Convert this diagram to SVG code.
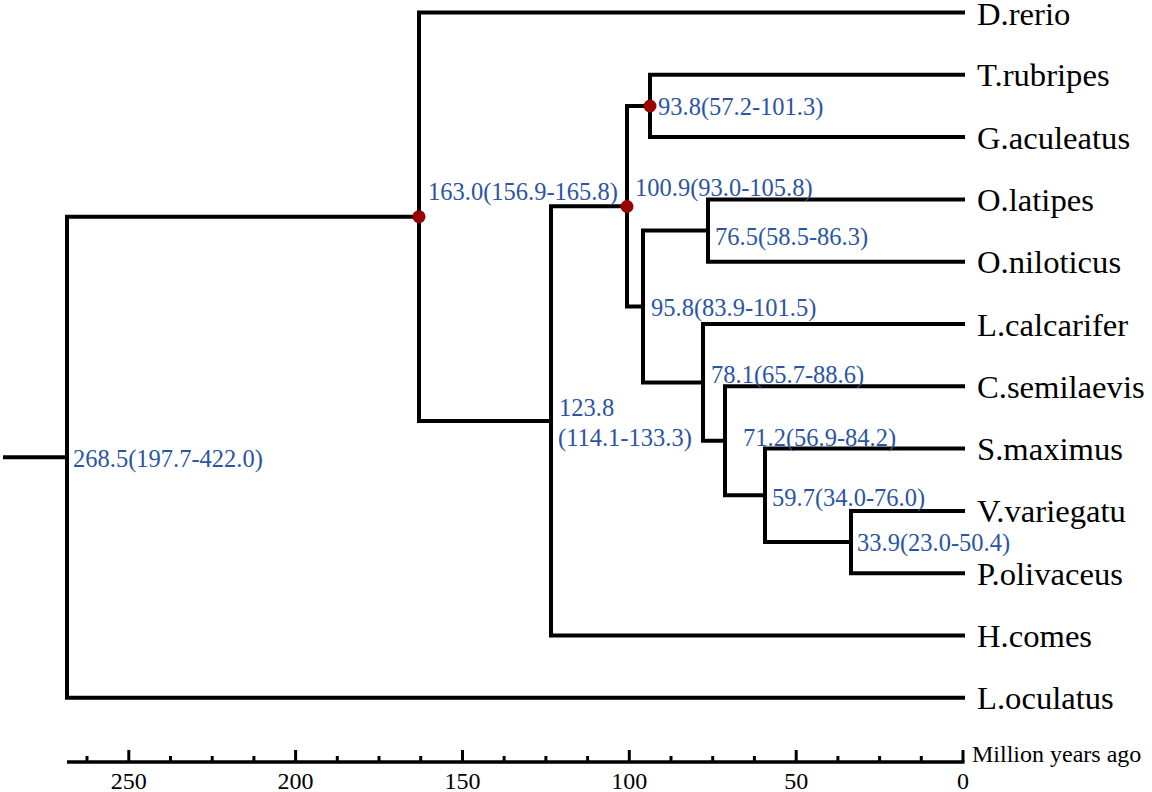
<svg xmlns="http://www.w3.org/2000/svg" width="1152" height="792" viewBox="0 0 1152 792">
<style>
.br{fill:none;stroke:#000;stroke-width:4;stroke-linejoin:miter;stroke-linecap:square}
.tip{font-family:"Liberation Serif","Times New Roman",serif;font-size:30.5px;fill:#000}
.age{font-family:"Liberation Serif","Times New Roman",serif;font-size:24.5px;fill:#2b55a3}
.ax{font-family:"Liberation Serif","Times New Roman",serif;font-size:24px;fill:#000}
.dot{fill:#9b0000}
.tk{stroke:#000;stroke-width:3}
</style>
<rect width="1152" height="792" fill="#fff"/>
<g id="connectors">
<path class="br" d="M5 457.3 H67"/>
<path class="br" d="M419 216.7 H67 V697.8 H963"/>
<path class="br" d="M963 12.5 H419 V420.9 H551"/>
<path class="br" d="M627 206.2 H551 V635.5 H963"/>
<path class="br" d="M650 106 H627 V306.5 H643"/>
<path class="br" d="M963 74.8 H650 V137.1 H963"/>
<path class="br" d="M708 230.5 H643 V382.4 H703"/>
<path class="br" d="M963 199.4 H708 V261.7 H963"/>
<path class="br" d="M963 324 H703 V440.8 H725"/>
<path class="br" d="M963 386.3 H725 V495.3 H765"/>
<path class="br" d="M963 448.6 H765 V542 H851"/>
<path class="br" d="M963 510.9 H851 V573.2 H963"/>
</g>
<g id="n_root"><text class="age" x="73" y="467">268.5(197.7-422.0)</text></g>
<g id="n_163"><circle class="dot" cx="419" cy="216.7" r="6.5"/><text class="age" x="428" y="200">163.0(156.9-165.8)</text></g>
<g id="n_123"><text class="age" x="559" y="416">123.8</text><text class="age" x="558" y="446">(114.1-133.3)</text></g>
<g id="n_100"><circle class="dot" cx="627" cy="206.5" r="6.5"/><text class="age" x="635" y="196">100.9(93.0-105.8)</text></g>
<g id="n_93"><circle class="dot" cx="650" cy="106" r="6.5"/><text class="age" x="658" y="115">93.8(57.2-101.3)</text></g>
<g id="n_95"><text class="age" x="651" y="316">95.8(83.9-101.5)</text></g>
<g id="n_76"><text class="age" x="715" y="245">76.5(58.5-86.3)</text></g>
<g id="n_78"><text class="age" x="711" y="383">78.1(65.7-88.6)</text></g>
<g id="n_71"><text class="age" x="743" y="446">71.2(56.9-84.2)</text></g>
<g id="n_59"><text class="age" x="772" y="506">59.7(34.0-76.0)</text></g>
<g id="n_33"><text class="age" x="857" y="551">33.9(23.0-50.4)</text></g>
<g id="t_drerio"><text class="tip" transform="translate(977 25) scale(1.07 1)">D.rerio</text></g>
<g id="t_trubripes"><text class="tip" transform="translate(977 86.3) scale(1.07 1)">T.rubripes</text></g>
<g id="t_gaculeatus"><text class="tip" transform="translate(977 148.6) scale(1.07 1)">G.aculeatus</text></g>
<g id="t_olatipes"><text class="tip" transform="translate(977 210.9) scale(1.07 1)">O.latipes</text></g>
<g id="t_oniloticus"><text class="tip" transform="translate(977 273.2) scale(1.07 1)">O.niloticus</text></g>
<g id="t_lcalcarifer"><text class="tip" transform="translate(977 335.5) scale(1.07 1)">L.calcarifer</text></g>
<g id="t_csemilaevis"><text class="tip" transform="translate(977 397.8) scale(1.07 1)">C.semilaevis</text></g>
<g id="t_smaximus"><text class="tip" transform="translate(977 460.1) scale(1.07 1)">S.maximus</text></g>
<g id="t_vvariegatu"><text class="tip" transform="translate(977 522.4) scale(1.07 1)">V.variegatu</text></g>
<g id="t_polivaceus"><text class="tip" transform="translate(977 584.7) scale(1.07 1)">P.olivaceus</text></g>
<g id="t_hcomes"><text class="tip" transform="translate(977 647) scale(1.07 1)">H.comes</text></g>
<g id="t_loculatus"><text class="tip" transform="translate(977 709.3) scale(1.07 1)">L.oculatus</text></g>
<g id="axis">
<line x1="67" y1="762" x2="964.5" y2="762" stroke="#000" stroke-width="3.5"/>
<g class="tk">
<line x1="963" y1="750" x2="963" y2="762"/>
<line x1="796.2" y1="750" x2="796.2" y2="762"/>
<line x1="629.3" y1="750" x2="629.3" y2="762"/>
<line x1="462.5" y1="750" x2="462.5" y2="762"/>
<line x1="295.6" y1="750" x2="295.6" y2="762"/>
<line x1="128.8" y1="750" x2="128.8" y2="762"/>
<line x1="921.3" y1="756" x2="921.3" y2="762"/>
<line x1="879.6" y1="756" x2="879.6" y2="762"/>
<line x1="837.9" y1="756" x2="837.9" y2="762"/>
<line x1="754.4" y1="756" x2="754.4" y2="762"/>
<line x1="712.7" y1="756" x2="712.7" y2="762"/>
<line x1="671" y1="756" x2="671" y2="762"/>
<line x1="587.6" y1="756" x2="587.6" y2="762"/>
<line x1="545.9" y1="756" x2="545.9" y2="762"/>
<line x1="504.1" y1="756" x2="504.1" y2="762"/>
<line x1="420.7" y1="756" x2="420.7" y2="762"/>
<line x1="379" y1="756" x2="379" y2="762"/>
<line x1="337.3" y1="756" x2="337.3" y2="762"/>
<line x1="253.9" y1="756" x2="253.9" y2="762"/>
<line x1="212.2" y1="756" x2="212.2" y2="762"/>
<line x1="170.5" y1="756" x2="170.5" y2="762"/>
<line x1="87" y1="756" x2="87" y2="762"/>
</g>
<g class="ax" text-anchor="middle">
<text x="963" y="789">0</text>
<text x="796.2" y="789">50</text>
<text x="629.3" y="789">100</text>
<text x="462.5" y="789">150</text>
<text x="295.6" y="789">200</text>
<text x="128.8" y="789">250</text>
</g>
<text class="ax" x="972" y="762">Million years ago</text>
</g>
</svg>
